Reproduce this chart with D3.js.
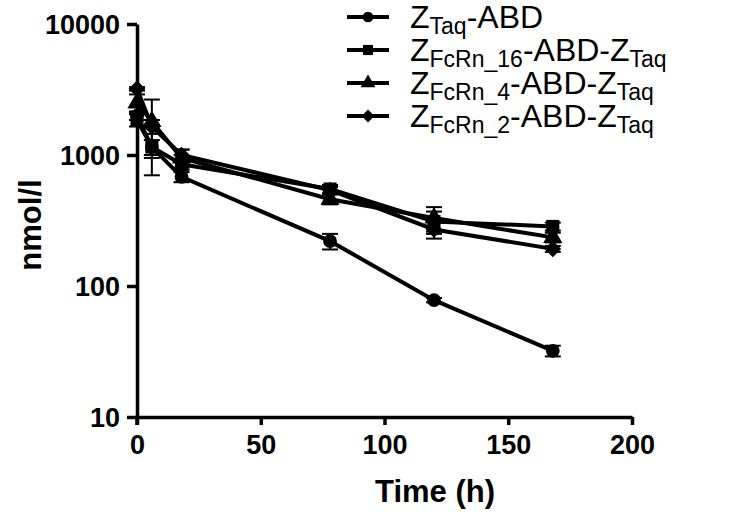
<!DOCTYPE html>
<html><head><meta charset="utf-8">
<script src="https://cdn.jsdelivr.net/npm/d3@7"></script>
<style>body{margin:0;background:#fff}svg{display:block}</style>
</head><body>
<svg id="c" width="751" height="512"></svg>
<script>
const times = [0, 6, 18, 78, 120, 168];
const taqABD      = [2000, 1150, 680, 220, 78, 32];
const taqABDErr   = [150, 450, 60, 30, 3, 3];
const fcrn16      = [1850, 1150, 850, 550, 310, 285];
const fcrn16Err   = [200, 150, 80, 40, 60, 20];
const fcrn4       = [2500, 1800, 950, 460, 330, 235];
const fcrn4Err    = [400, 850, 150, 40, 70, 20];
const fcrn2       = [3200, 1650, 1000, 540, 270, 192];
const fcrn2Err    = [100, 200, 100, 30, 40, 10];
const xTicks = [0, 50, 100, 150, 200];
const yTicks = [10, 100, 1000, 10000];
const seriesNames = [
  [["Z",""],["Taq","sub"],["-ABD",""]],
  [["Z",""],["FcRn_16","sub"],["-ABD-Z",""],["Taq","sub"]],
  [["Z",""],["FcRn_4","sub"],["-ABD-Z",""],["Taq","sub"]],
  [["Z",""],["FcRn_2","sub"],["-ABD-Z",""],["Taq","sub"]]
];
const symbols = [d3.symbolCircle, d3.symbolSquare, d3.symbolTriangle, d3.symbolSquare];
const symRot = [0, 0, 0, 45];
const symSizes = [150, 170, 160, 140];
const series = [
  {v: taqABD, e: taqABDErr},
  {v: fcrn16, e: fcrn16Err},
  {v: fcrn4, e: fcrn4Err},
  {v: fcrn2, e: fcrn2Err}
];

const svg = d3.select("#c");
const x = d3.scaleLinear().domain([0, 200]).range([137, 632]);
const y = d3.scaleLog().domain([10, 10000]).range([417, 24]);

const font = "'Liberation Sans', Arial, sans-serif";

const xAxis = svg.append("g").attr("transform", "translate(0,417)")
  .call(d3.axisBottom(x).tickValues(xTicks).tickFormat(d3.format("d")).tickSize(8).tickSizeOuter(0));
const yAxis = svg.append("g").attr("transform", "translate(137,0)")
  .call(d3.axisLeft(y).tickValues(yTicks).tickFormat(d3.format("d")).tickSize(10).tickSizeOuter(0));
[xAxis, yAxis].forEach(a => {
  a.select(".domain").attr("stroke", "#000").attr("stroke-width", 3.5);
  a.selectAll(".tick line").attr("stroke", "#000").attr("stroke-width", 3.5);
  a.selectAll(".tick text").attr("fill", "#000").attr("font-family", font)
    .attr("font-weight", "bold").attr("font-size", 27);
});
xAxis.selectAll(".tick text").attr("dy", "0.95em");
yAxis.selectAll(".tick text").attr("dx", "-4").attr("dy", "0.36em");
svg.append("line").attr("x1", 137).attr("x2", 137).attr("y1", 417).attr("y2", 425)
  .attr("stroke", "#000").attr("stroke-width", 3.5);

svg.append("text").attr("x", 435).attr("y", 502).attr("text-anchor", "middle")
  .attr("font-family", font).attr("font-weight", "bold").attr("font-size", 31).text("Time (h)");
svg.append("text").attr("transform", "translate(41,225) rotate(-90)").attr("text-anchor", "middle")
  .attr("font-family", font).attr("font-weight", "bold").attr("font-size", 31).text("nmol/l");

const line = d3.line().x((d, i) => x(times[i])).y(d => y(d));
const plot = svg.append("g");
series.forEach((s, k) => {
  const g = plot.append("g");
  s.v.forEach((v, i) => {
    const top = y(v + s.e[i]), bot = y(Math.max(v - s.e[i], 1));
    const cx = x(times[i]);
    g.append("line").attr("x1", cx).attr("x2", cx).attr("y1", top).attr("y2", bot).attr("stroke", "#000").attr("stroke-width", 2);
    [top, bot].forEach(yy => g.append("line").attr("x1", cx - 8).attr("x2", cx + 8).attr("y1", yy).attr("y2", yy).attr("stroke", "#000").attr("stroke-width", 2));
  });
  g.append("path").datum(s.v).attr("d", line).attr("fill", "none").attr("stroke", "#000").attr("stroke-width", 4);
  g.selectAll("path.m").data(s.v).join("path").attr("class", "m")
    .attr("transform", (d, i) => `translate(${x(times[i])},${y(d)}) rotate(${symRot[k]})`)
    .attr("d", d3.symbol().type(symbols[k]).size(symSizes[k])).attr("fill", "#000");
});

const leg = svg.append("g");
seriesNames.forEach((parts, k) => {
  const ly = 17 + k * 33;
  leg.append("line").attr("x1", 347).attr("x2", 389).attr("y1", ly).attr("y2", ly).attr("stroke", "#000").attr("stroke-width", 4);
  leg.append("path").attr("transform", `translate(368,${ly}) rotate(${symRot[k]})`).attr("d", d3.symbol().type(symbols[k]).size(symSizes[k] * 0.6)).attr("fill", "#000");
  const t = leg.append("text").attr("x", 410).attr("y", ly + 11).attr("font-family", font).attr("font-size", 32).attr("fill", "#000");
  parts.forEach(([txt, kind], j) => {
    if (kind === "sub") {
      t.append("tspan").attr("font-size", 23).attr("dy", 6).text(txt);
    } else {
      t.append("tspan").attr("dy", j ? -6 : 0).text(txt);
    }
  });
});
</script>
</body></html>
